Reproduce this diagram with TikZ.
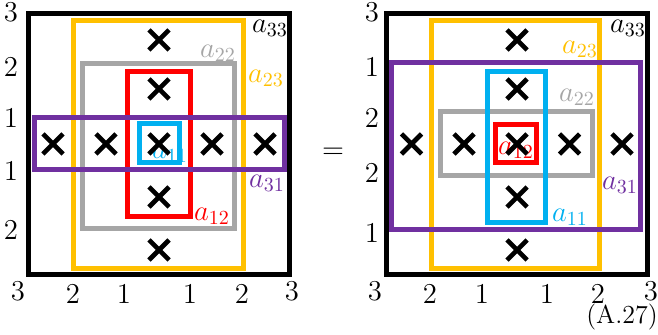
\documentclass[tikz,border=0pt]{standalone}
\usepackage{amsmath}
\usepackage{xcolor}
\usepackage{tikz}
\usetikzlibrary{shapes.misc}

\definecolor{ayellow}{HTML}{FFC000}
\definecolor{agray}{HTML}{A6A6A6}
\definecolor{ared}{HTML}{FF0000}
\definecolor{ablue}{HTML}{00B0F0}
\definecolor{apurple}{HTML}{7030A0}

\begin{document}
\begin{tikzpicture}[
        x=0.5pt, y=-0.5pt,
        frame/.style={line width=2.5pt},
        outer/.style={line width=2.9pt, draw=black},
        xmk/.style={cross out, draw=black, line width=2.3pt, minimum size=7.8pt, inner sep=0pt},
        lbl/.style={inner sep=0pt, font=\Large},
        tick/.style={inner sep=0pt, font=\Large}
    ]
    \useasboundingbox (0,0) rectangle (658,335);

    % left grid
    \draw[outer] (28.5,13.5) rectangle (289.5,274.5);
    \draw[frame, draw=ayellow] (73.5,20.5) rectangle (243,268.5);
    \draw[frame, draw=agray] (82.5,63.5) rectangle (234.5,229);
    \draw[frame, draw=ared] (127.5,72) rectangle (190.5,217);
    \draw[frame, draw=ablue] (139.5,124) rectangle (179,163);
    \draw[frame, draw=apurple] (34,118) rectangle (284,169.5);

    \node[lbl] (la33) at (270,28) {$a_{33}$};
    \node[lbl, text=agray] (la22) at (218,53) {$a_{22}$};
    \node[lbl, text=ayellow] (la23) at (266,78) {$a_{23}$};
    \node[lbl, text=ablue] (la11) at (170,154) {$a_{11}$};
    \node[lbl, text=apurple] (la31) at (267,183) {$a_{31}$};
    \node[lbl, text=ared] (la12) at (212,216) {$a_{12}$};

    \foreach \cx [count=\i] in {53,106,159,212,265}
        \node[xmk] (lr\i) at (\cx,144) {};
    \foreach \cy [count=\i] in {40,89,197,250}
        \node[xmk] (lc\i) at (159,\cy) {};

    \foreach \t/\ty [count=\i] in {3/12,2/67,1/118,1/171,2/230}
        \node[tick] (lv\i) at (11,\ty) {$\t$};
    \foreach \t/\tx/\ty [count=\i] in {3/18/291,2/73/294,1/124/294,1/190/294,2/242/294,3/292/291}
        \node[tick] (lh\i) at (\tx,\ty) {$\t$};

    \node[tick] (eq) at (333,153) {$=$};

    % right grid
    \draw[outer] (386.5,13.5) rectangle (647.5,274.5);
    \draw[frame, draw=ayellow] (431,20.5) rectangle (599.5,268.5);
    \draw[frame, draw=agray] (440,111.5) rectangle (592.5,175.5);
    \draw[frame, draw=ablue] (487.5,72) rectangle (545,222.5);
    \draw[frame, draw=ared] (495,124.5) rectangle (536,163);
    \draw[frame, draw=apurple] (391.5,63) rectangle (640,229.5);

    \node[lbl] (ra33) at (628,28) {$a_{33}$};
    \node[lbl, text=ayellow] (ra23) at (580,49) {$a_{23}$};
    \node[lbl, text=agray] (ra22) at (577,97) {$a_{22}$};
    \node[lbl, text=ared] (ra12) at (516,150) {$a_{12}$};
    \node[lbl, text=apurple] (ra31) at (620,185) {$a_{31}$};
    \node[lbl, text=ablue] (ra11) at (570,217) {$a_{11}$};

    \foreach \cx [count=\i] in {411.5,464,517,569.5,622}
        \node[xmk] (rr\i) at (\cx,144) {};
    \foreach \cy [count=\i] in {40,89,197,250}
        \node[xmk] (rc\i) at (517,\cy) {};

    \foreach \t/\ty [count=\i] in {3/12,1/67,2/118,2/173,1/233}
        \node[tick] (rv\i) at (372,\ty) {$\t$};
    \foreach \t/\tx/\ty [count=\i] in {3/375/291,2/430/294,1/482/294,1/547/294,2/598/294,3/651/291}
        \node[tick] (rh\i) at (\tx,\ty) {$\t$};

    \node[inner sep=0pt, font=\fontsize{13}{16}\selectfont] (eqno) at (622,317) {(A.27)};
\end{tikzpicture}
\end{document}
